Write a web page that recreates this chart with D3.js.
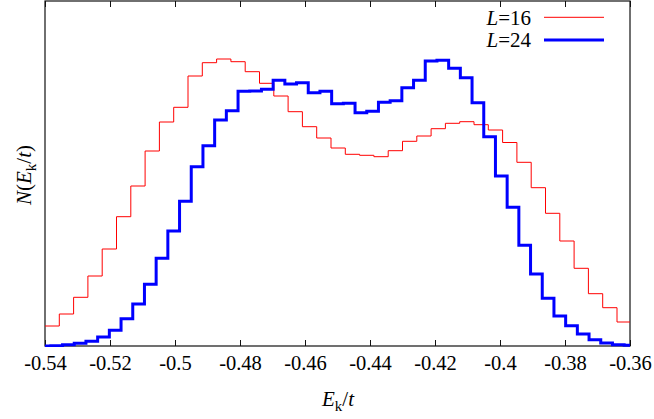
<!DOCTYPE html>
<html>
<head>
<meta charset="utf-8">
<script src="https://cdn.jsdelivr.net/npm/d3@7"></script>
<style>
  html, body { margin: 0; padding: 0; background: #fff; }
  svg { display: block; font-family: "Liberation Serif", "Times New Roman", serif; }
</style>
</head>
<body>
<div id="chart"></div>
<script>
/* ---------- data (arbitrary units) ---------- */
const xTicks = [-0.54, -0.52, -0.5, -0.48, -0.46, -0.44, -0.42, -0.4, -0.38, -0.36];

// L=16 histogram, bins of 0.0044 starting at -0.54
const redBinStart = -0.54;
const redBinWidth = 0.0044;
const redCounts = [
  20, 32, 48.7, 70, 97, 129.3, 160, 195, 224, 238.7,
  270, 283.3, 287, 284.3, 274.3, 262.7, 250, 234.3, 219.3, 208,
  198, 191.7, 190.7, 189.3, 195.3, 204.7, 210, 217.3, 222.7, 224.3,
  221.3, 216, 203.5, 183.7, 158.3, 132.7, 105, 77.7, 52.3, 38.3, 24
];

// L=24 histogram, bins of 0.0036 centred on -0.54 ... -0.36
const blueBinStart = -0.5418;
const blueBinWidth = 0.0036;
const blueCounts = [
  0, 0.3, 1.3, 2.7, 4.7, 9, 15.7, 27.3, 42, 61.7,
  87.7, 115, 144.7, 179.3, 200.3, 226, 235.3, 254.7, 255, 256.7,
  265.7, 262, 263.3, 253.3, 254.7, 242.3, 242.7, 233.3, 234.7, 243.7,
  245.3, 258.3, 265.7, 285, 285.7, 277.7, 268.3, 243.3, 209.3, 170,
  138.7, 100.7, 72, 47.7, 30, 20.3, 12, 6.3, 3, 1.3, 0.7
];

const seriesNames = ["16", "24"];

/* ---------- layout ---------- */
const width = 654, height = 419;
const margin = { top: 1, right: 24, bottom: 73, left: 45 };
const innerW = width - margin.left - margin.right;
const innerH = height - margin.top - margin.bottom;
const serif = "'Liberation Serif', 'Times New Roman', serif";

const svg = d3.select("#chart").append("svg")
  .attr("width", width)
  .attr("height", height)
  .attr("font-family", serif);

const x = d3.scaleLinear().domain([-0.54, -0.36]).range([0, innerW]);
const y = d3.scaleLinear().domain([0, 345]).range([innerH, 0]);

const g = svg.append("g")
  .attr("transform", `translate(${margin.left},${margin.top})`);

g.append("defs").append("clipPath").attr("id", "plotClip")
  .append("rect")
  .attr("x", 0).attr("y", 0)
  .attr("width", innerW).attr("height", innerH + 1);

// Border box
g.append("rect")
  .attr("x", 0).attr("y", 0)
  .attr("width", innerW).attr("height", innerH)
  .attr("fill", "none")
  .attr("stroke", "#111")
  .attr("stroke-width", 1.2);

const fmt = d => String(+d.toFixed(2));

// Bottom axis (ticks inward)
g.append("g")
  .attr("transform", `translate(0,${innerH})`)
  .call(d3.axisBottom(x).tickValues(xTicks).tickFormat(fmt).tickSizeInner(-6).tickSizeOuter(0).tickPadding(24))
  .attr("font-family", serif)
  .attr("font-size", 20.5)
  .call(a => a.select(".domain").remove())
  .call(a => a.selectAll(".tick line").attr("stroke", "#111"))
  .selectAll("text")
  .attr("dy", 0)
  .style("font-family", serif)
  .style("fill", "#000");

// Top mirror ticks
g.append("g")
  .call(d3.axisTop(x).tickValues(xTicks).tickFormat("").tickSizeInner(-6).tickSizeOuter(0))
  .call(a => a.select(".domain").remove())
  .call(a => a.selectAll(".tick line").attr("stroke", "#111"));

// Step histograms
function stepPoints(start, w, counts) {
  const pts = counts.map((c, i) => [start + i * w, c]);
  pts.push([start + counts.length * w, counts[counts.length - 1]]);
  return pts;
}

const line = d3.line()
  .x(d => x(d[0]))
  .y(d => y(d[1]))
  .curve(d3.curveStepAfter);

const plots = g.append("g").attr("clip-path", "url(#plotClip)");

plots.append("path")
  .datum(stepPoints(redBinStart, redBinWidth, redCounts))
  .attr("fill", "none")
  .attr("stroke", "#ff0000")
  .attr("stroke-width", 1)
  .attr("d", line);

plots.append("path")
  .datum(stepPoints(blueBinStart, blueBinWidth, blueCounts))
  .attr("fill", "none")
  .attr("stroke", "#0000ff")
  .attr("stroke-width", 3)
  .attr("d", line);

// Legend
const legend = svg.append("g");
const legendColors = ["#ff0000", "#0000ff"];
const legendWidths = [1, 3];
seriesNames.forEach((name, i) => {
  const t = legend.append("text")
    .attr("x", 531)
    .attr("y", 25 + i * 21.7)
    .attr("text-anchor", "end")
    .style("font-size", "21px");
  t.append("tspan").style("font-style", "italic").text("L");
  t.append("tspan").text("=" + name);
  legend.append("line")
    .attr("x1", 544).attr("x2", 604)
    .attr("y1", 17.3 + i * 22.7).attr("y2", 17.3 + i * 22.7)
    .attr("stroke", legendColors[i])
    .attr("stroke-width", legendWidths[i]);
});

// X label
const xl = svg.append("text")
  .attr("x", 338)
  .attr("y", 406)
  .attr("text-anchor", "middle")
  .style("font-size", "21px");
xl.append("tspan").style("font-style", "italic").text("E");
xl.append("tspan").attr("dy", 5).style("font-size", "15px").text("k");
xl.append("tspan").attr("dy", -5).text("/");
xl.append("tspan").style("font-style", "italic").text("t");

// Y label
const yl = svg.append("text")
  .attr("transform", "translate(31,175) rotate(-90)")
  .attr("text-anchor", "middle")
  .style("font-size", "21px");
yl.append("tspan").style("font-style", "italic").text("N");
yl.append("tspan").text("(");
yl.append("tspan").style("font-style", "italic").text("E");
yl.append("tspan").attr("dy", 5).style("font-size", "15px").text("k");
yl.append("tspan").attr("dy", -5).text("/");
yl.append("tspan").style("font-style", "italic").text("t");
yl.append("tspan").text(")");
</script>
</body>
</html>
